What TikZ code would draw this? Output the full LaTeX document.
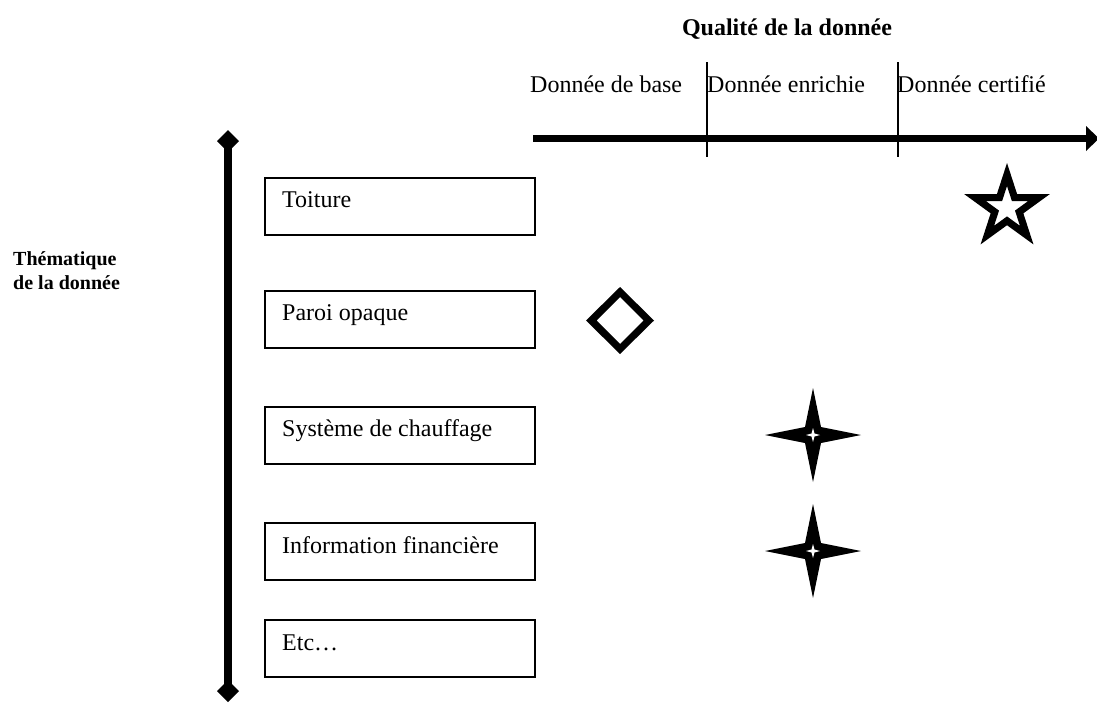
\documentclass[tikz,border=0pt]{standalone}
\usepackage{fontspec}
\setmainfont{Liberation Serif}
\usetikzlibrary{calc}
\begin{document}
\begin{tikzpicture}[x=1pt,y=-1pt,
  box/.style={draw, line width=2pt, minimum width=270pt, minimum height=57pt, anchor=north west, inner sep=0pt},
  lbl/.style={anchor=base west, inner sep=0pt, font=\fontsize{24}{28}\selectfont},
  ttl/.style={anchor=base west, inner sep=0pt, font=\fontsize{20}{24}\selectfont\bfseries},
  axisline/.style={line width=7pt},
  tickline/.style={line width=2pt},
  fourstar/.pic={
    \fill (0,-47) -- (8,-8) -- (48,0) -- (8,8) -- (0,47) -- (-8,8) -- (-48,0) -- (-8,-8) -- cycle;
    \fill[white] (0,-7) -- (1.5,-1.5) -- (7,0) -- (1.5,1.5) -- (0,7) -- (-1.5,1.5) -- (-7,0) -- (-1.5,-1.5) -- cycle;
  }]
\useasboundingbox (0,0) rectangle (1097,702);

% titles
\node[anchor=base, inner sep=0pt, font=\fontsize{24}{28}\selectfont\bfseries] (qt) at (787,35) {Qualité de la donnée};
\node[ttl] (th1) at (13,265) {Thématique};
\node[ttl] (th2) at (13,289) {de la donnée};

% horizontal axis
\coordinate (hl) at (533,138.5);
\coordinate (hr) at (1088,138.5);
\draw[axisline] (hl) -- (hr);
\fill (1086,126) -- (1099,138.5) -- (1086,151) -- cycle;
\coordinate (t1a) at (707,62); \coordinate (t1b) at (707,157);
\coordinate (t2a) at (898,62); \coordinate (t2b) at (898,157);
\draw[tickline] (t1a) -- (t1b);
\draw[tickline] (t2a) -- (t2b);
\node[lbl] (q1) at (530,92) {Donnée de base};
\node[lbl] (q2) at (707,92) {Donnée enrichie};
\node[lbl] (q3) at (897,92) {Donnée certifié};

% vertical axis
\coordinate (vt) at (228,141);
\coordinate (vb) at (228,691);
\draw[line width=7.5pt] (vt) -- (vb);
\fill (228,130) -- (239,141) -- (228,152) -- (217,141) -- cycle;
\fill (228,680) -- (239,691) -- (228,702) -- (217,691) -- cycle;

% boxes
\node[box] (b1) at (264,176.5) {};
\node[box] (b2) at (264,289.5) {};
\node[box] (b3) at (264,405.5) {};
\node[box] (b4) at (264,522) {};
\node[box] (b5) at (264,619) {};
\node[lbl] (l1) at ($(b1.north west)+(18,31)$) {Toiture};
\node[lbl] (l2) at ($(b2.north west)+(18,31)$) {Paroi opaque};
\node[lbl] (l3) at ($(b3.north west)+(18,31)$) {Système de chauffage};
\node[lbl] (l4) at ($(b4.north west)+(18,31)$) {Information financière};
\node[lbl] (l5) at ($(b5.north west)+(18,31)$) {Etc…};

% symbols
\fill[even odd rule] (620,287) -- (654,320.5) -- (620,354) -- (586,320.5) -- cycle
  (620,297) -- (643.5,320.5) -- (620,344) -- (596.5,320.5) -- cycle;

\begin{scope}[shift={(1007,208)}]
\fill[even odd rule] (-90:45) -- (-126:17.2) -- (-162:45) -- (-198:17.2) -- (-234:45) -- (-270:17.2) -- (-306:45) -- (-342:17.2) -- (-18:45) -- (-54:17.2) -- cycle
  (-90:22) -- (-126:8.4) -- (-162:22) -- (-198:8.4) -- (-234:22) -- (-270:8.4) -- (-306:22) -- (-342:8.4) -- (-18:22) -- (-54:8.4) -- cycle;
\end{scope}

\pic at (813,435) {fourstar};
\pic at (813,551) {fourstar};
\end{tikzpicture}
\end{document}
